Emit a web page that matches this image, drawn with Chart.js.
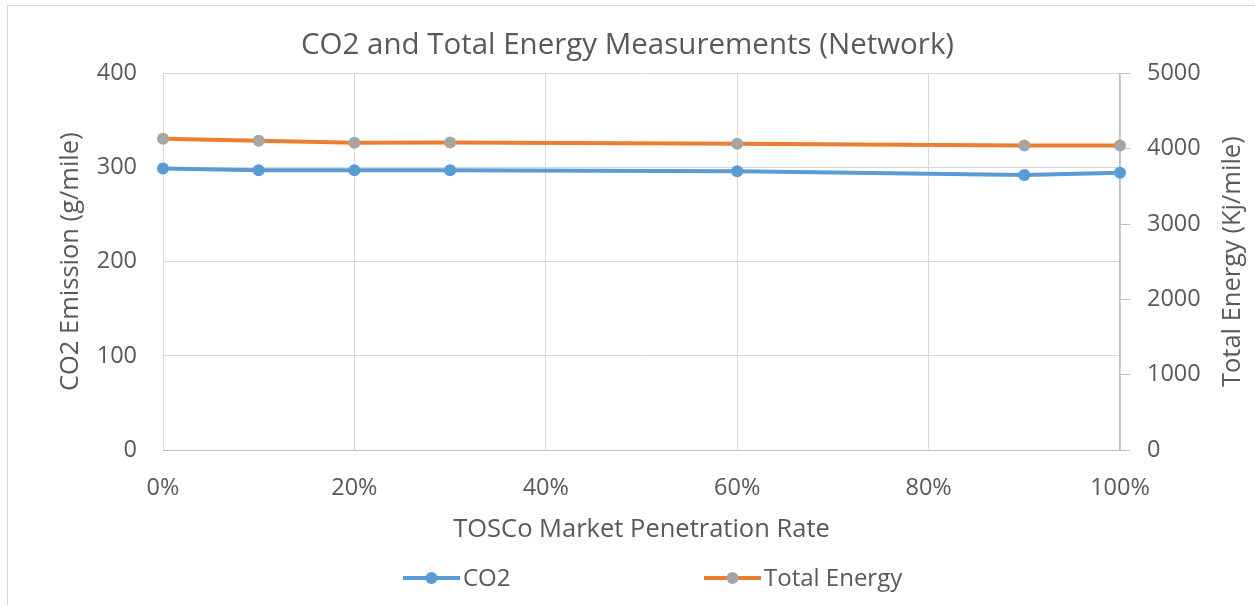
<!DOCTYPE html>
<html>
<head>
<meta charset="utf-8">
<script src="https://cdn.jsdelivr.net/npm/chart.js@4"></script>
<style>
  html, body { margin: 0; padding: 0; background: #ffffff; }
  #wrap { position: relative; width: 1255px; height: 605px; overflow: hidden; }
  #frame { position: absolute; left: 7px; top: 5px; width: 1300px; height: 700px;
           border: 1.5px solid #d9d9d9; box-sizing: border-box; }
  canvas { position: absolute; left: 0; top: 0; }
</style>
</head>
<body>
<div id="wrap">
  <div id="frame"></div>
  <canvas id="chart" width="1255" height="605"></canvas>
</div>
<script>
// Market penetration rates (%) and the measured values at each rate
const penetration = [0, 10, 20, 30, 60, 90, 100];
const co2Values = [298.9, 297.1, 297.1, 297.1, 296.1, 292.0, 294.4];      // g/mile
const energyValues = [4132, 4105, 4078, 4082, 4065, 4043, 4043];          // Kj/mile

const seriesNames = ['CO2', 'Total Energy'];
const chartTitle = 'CO2 and Total Energy Measurements (Network)';
const xAxisTitle = 'TOSCo Market Penetration Rate';
const yAxisTitle = 'CO2 Emission (g/mile)';
const y2AxisTitle = 'Total Energy (Kj/mile)';

const FONT = 'Open Sans';
const TEXT = '#595959';
const GRID = '#d9d9d9';
const AXIS = '#bfbfbf';
const TICK_SIZE = 23.5;
const AXIS_TITLE_SIZE = 25.5;
const LEGEND_SIZE = 24;

const toPoints = (xs, ys) => xs.map((x, i) => ({ x: x, y: ys[i] }));

// Legend drawn as line-with-marker swatches, spaced the way the office chart lays them out
const lineLegend = {
  id: 'lineLegend',
  afterDraw(chart) {
    const ctx = chart.ctx;
    const starts = [403, 704];
    const y = 578;
    const swatch = 57;
    ctx.save();
    chart.data.datasets.forEach((ds, i) => {
      const x0 = starts[i];
      ctx.strokeStyle = ds.borderColor;
      ctx.lineWidth = 4;
      ctx.beginPath();
      ctx.moveTo(x0, y);
      ctx.lineTo(x0 + swatch, y);
      ctx.stroke();
      ctx.fillStyle = ds.pointBackgroundColor;
      ctx.beginPath();
      ctx.arc(x0 + swatch / 2, y, 6, 0, Math.PI * 2);
      ctx.fill();
      ctx.fillStyle = TEXT;
      ctx.font = LEGEND_SIZE + 'px "' + FONT + '"';
      ctx.textBaseline = 'middle';
      ctx.textAlign = 'left';
      ctx.fillText(ds.label, x0 + swatch + 3, y + 1);
    });
    ctx.restore();
  }
};

// Secondary axis title, reading bottom-to-top like the primary one
const rightAxisTitle = {
  id: 'rightAxisTitle',
  afterDraw(chart) {
    const ctx = chart.ctx;
    const area = chart.chartArea;
    const s = chart.scales.y2;
    ctx.save();
    ctx.translate(s.right - 22, (area.top + area.bottom) / 2);
    ctx.rotate(-Math.PI / 2);
    ctx.fillStyle = TEXT;
    ctx.font = AXIS_TITLE_SIZE + 'px "' + FONT + '"';
    ctx.textAlign = 'center';
    ctx.textBaseline = 'middle';
    ctx.fillText(y2AxisTitle, 0, 0);
    ctx.restore();
  }
};

new Chart(document.getElementById('chart'), {
  type: 'scatter',
  data: {
    datasets: [
      {
        label: seriesNames[0],
        data: toPoints(penetration, co2Values),
        yAxisID: 'y',
        showLine: true,
        borderColor: '#5B9BD5',
        backgroundColor: '#5B9BD5',
        pointBackgroundColor: '#5B9BD5',
        pointBorderColor: '#5B9BD5',
        borderWidth: 4,
        pointRadius: 6,
        pointBorderWidth: 0,
        clip: false
      },
      {
        label: seriesNames[1],
        data: toPoints(penetration, energyValues),
        yAxisID: 'y2',
        showLine: true,
        borderColor: '#ED7D31',
        backgroundColor: '#ED7D31',
        pointBackgroundColor: '#A5A5A5',
        pointBorderColor: '#A5A5A5',
        borderWidth: 4,
        pointRadius: 6,
        pointBorderWidth: 0,
        clip: false
      }
    ]
  },
  options: {
    responsive: false,
    animation: false,
    layout: { padding: { left: 0, right: 0, top: 0, bottom: 47 } },
    plugins: {
      legend: { display: false },
      tooltip: { enabled: false },
      title: {
        display: true,
        text: chartTitle,
        color: TEXT,
        font: { family: FONT, size: 29.5, weight: 'normal' },
        padding: { top: 28, bottom: 10 }
      }
    },
    scales: {
      x: {
        type: 'linear',
        position: 'bottom',
        min: 0,
        max: 100,
        ticks: {
          stepSize: 20,
          color: TEXT,
          font: { family: FONT, size: TICK_SIZE },
          padding: 24,
          callback: v => v + '%'
        },
        grid: { color: GRID, lineWidth: 1, drawTicks: false },
        border: { display: true, color: AXIS, width: 1 },
        title: {
          display: true,
          text: xAxisTitle,
          color: TEXT,
          font: { family: FONT, size: AXIS_TITLE_SIZE },
          padding: { top: 0, bottom: 13 }
        },
        afterFit: s => { s.height = 108; }
      },
      y: {
        type: 'linear',
        position: 'left',
        min: 0,
        max: 400,
        ticks: {
          stepSize: 100,
          color: TEXT,
          font: { family: FONT, size: TICK_SIZE },
          padding: 26
        },
        grid: { color: GRID, lineWidth: 1, drawTicks: false },
        border: { display: false },
        title: {
          display: true,
          text: yAxisTitle,
          color: TEXT,
          font: { family: FONT, size: AXIS_TITLE_SIZE },
          padding: { top: 55, bottom: 0 }
        },
        afterFit: s => { s.width = 163; }
      },
      y2: {
        type: 'linear',
        position: 'right',
        min: 0,
        max: 5000,
        ticks: {
          stepSize: 1000,
          color: TEXT,
          font: { family: FONT, size: TICK_SIZE },
          padding: 17,
          callback: v => String(v)
        },
        grid: { drawOnChartArea: false, drawTicks: true, tickLength: 10, color: AXIS, tickColor: AXIS },
        border: { display: true, color: AXIS, width: 1.5 },
        title: { display: false },
        afterFit: s => { s.width = 135; }
      }
    }
  },
  plugins: [lineLegend, rightAxisTitle]
});
</script>
</body>
</html>
